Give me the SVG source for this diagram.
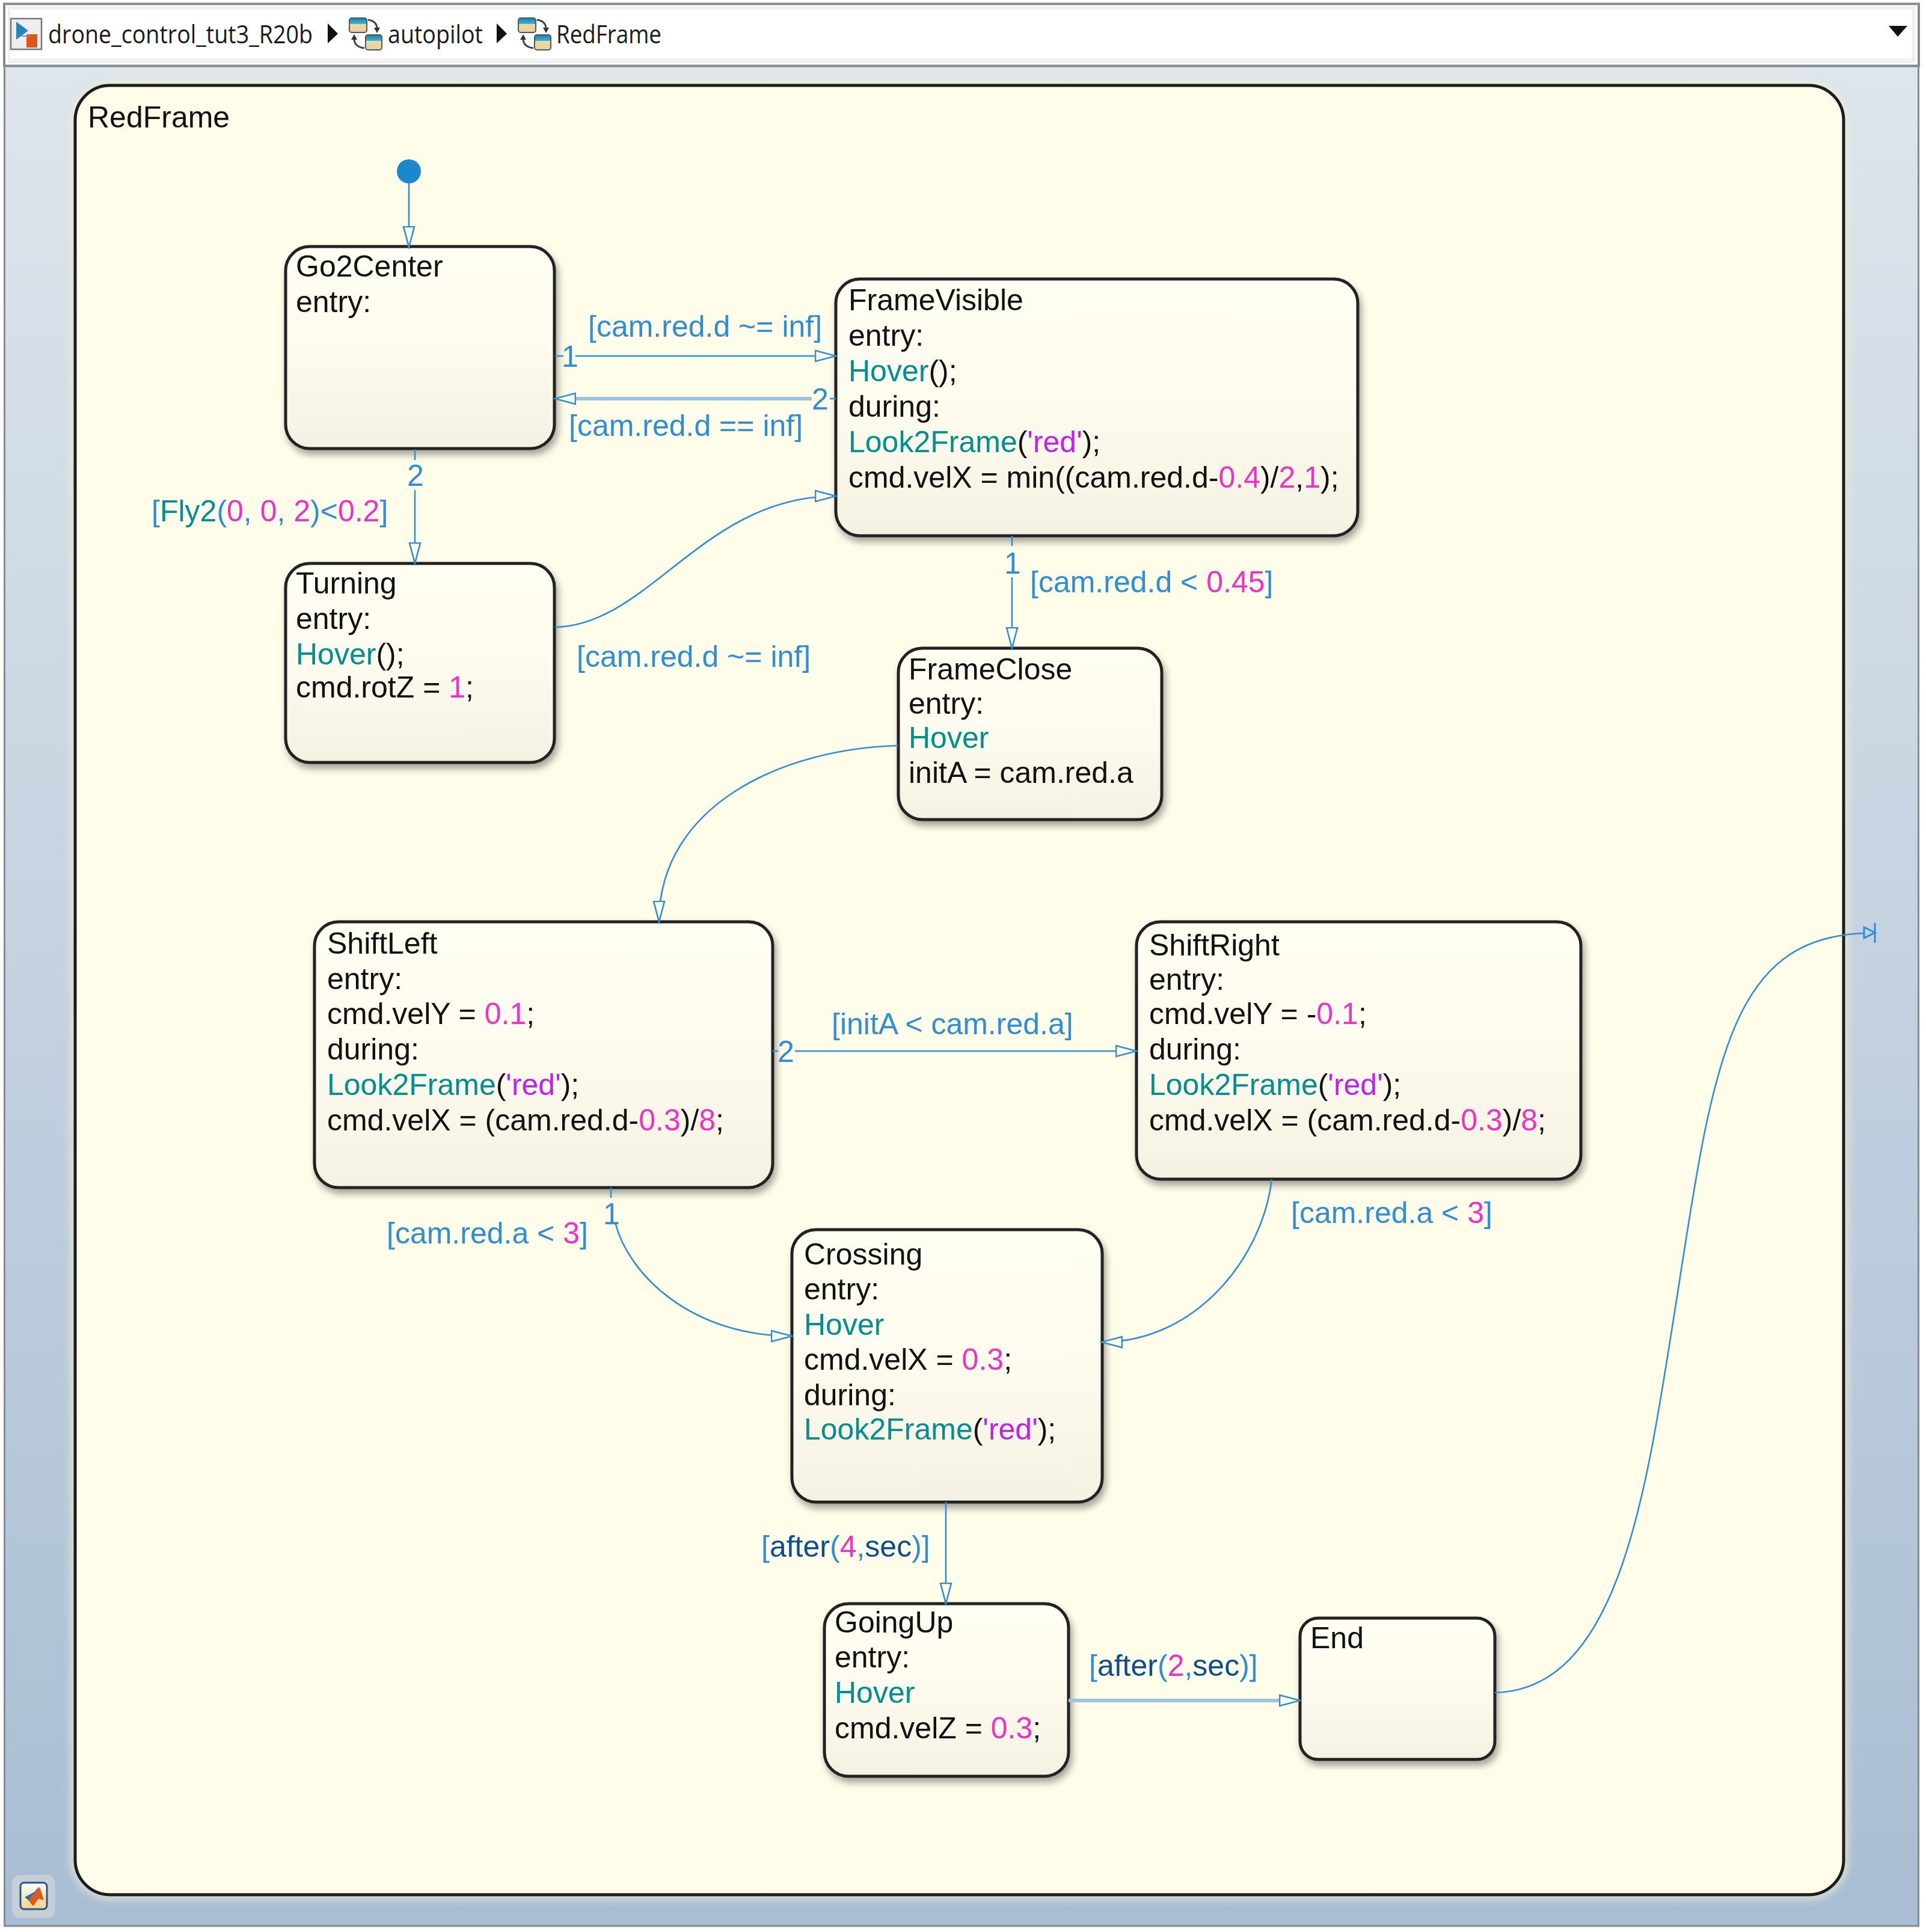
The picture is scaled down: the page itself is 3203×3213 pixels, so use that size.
<svg xmlns="http://www.w3.org/2000/svg" width="3203" height="3213" viewBox="0 0 3203 3213">
<style>
text{font-family:"Liberation Sans",Arial,sans-serif;font-size:50px;fill:#111}
.tb{font-family:"Open Sans","Liberation Sans",sans-serif;font-size:42px;fill:#1a1a1a}
.st{fill:url(#nodeGrad);stroke:#222;stroke-width:5;filter:url(#shadow)}
.t{fill:none;stroke:#2f8fd2;stroke-width:2.6}
.p{fill:none;stroke:#9cc4e0;stroke-width:6}
.arr{marker-end:url(#head)}
.l,.l text{fill:#2f8fd2}
.n{fill:#f030c4}
.f{fill:#009090}
.s{fill:#c020f0}
.k{fill:#0b4f8f}
</style>
<defs>
<linearGradient id="bg" x1="0" y1="0" x2="0" y2="1"><stop offset="0" stop-color="#dee5eb"/><stop offset="1" stop-color="#a8bdd3"/></linearGradient>
<linearGradient id="nodeGrad" x1="0" y1="0" x2="0" y2="1"><stop offset="0" stop-color="#fffef3"/><stop offset="0.5" stop-color="#fdfbee"/><stop offset="1" stop-color="#f5f1e2"/></linearGradient>
<linearGradient id="ico" x1="0" y1="0" x2="0" y2="1"><stop offset="0" stop-color="#fff"/><stop offset="1" stop-color="#f9cf86"/></linearGradient>
<linearGradient id="mini" x1="0" y1="0" x2="0" y2="1"><stop offset="0" stop-color="#1b7fb0"/><stop offset="0.4" stop-color="#36b6d8"/><stop offset="0.41" stop-color="#f0d9a8"/><stop offset="1" stop-color="#e6cf9f"/></linearGradient>
<filter id="shadow" x="-5%" y="-5%" width="112%" height="112%"><feDropShadow dx="4" dy="8" stdDeviation="6" flood-color="#000" flood-opacity="0.35"/></filter>
<filter id="halo" x="-3%" y="-3%" width="106%" height="106%"><feGaussianBlur stdDeviation="7"/></filter>
<marker id="head" markerUnits="userSpaceOnUse" markerWidth="38" markerHeight="24" refX="35" refY="11" orient="auto"><path d="M1 2L35 11L1 20Z" fill="#fffcea" stroke="#2f8fd2" stroke-width="2.6"/></marker>
<g id="miniIcon"><rect x="0" y="0" width="29" height="24" rx="4" fill="url(#mini)" stroke="#555" stroke-width="2"/><rect x="27" y="28" width="27" height="25" rx="4" fill="url(#mini)" stroke="#555" stroke-width="2"/><path d="M31 3Q46 5 46 18M25 50Q8 48 8 34" fill="none" stroke="#444" stroke-width="3"/><path d="M41 16L51 16L46 25ZM3 36L13 36L8 27Z" fill="#333"/></g>
</defs>

<rect width="3203" height="3213" fill="#fff"/>
<rect x="7.500" y="110" width="3183" height="3093" fill="url(#bg)" stroke="#848b95" stroke-width="3"/>
<g id="toolbar">
<rect x="7" y="6.500" width="3184" height="103" fill="#fff" stroke="#848b95" stroke-width="4"/>
<rect x="13" y="11" width="3172" height="94" fill="#f0f0f0"/>
<rect x="17" y="16" width="3163" height="81" fill="#fff"/>
<rect x="18" y="31" width="51" height="51" fill="#eee" stroke="#777" stroke-width="2.500"/>
<path d="M27 36L27 66L47 51Z" fill="#1f86c4"/>
<rect x="44" y="57" width="18" height="22" fill="#e2541a"/>
<path d="M36 60L50 60" stroke="#888" stroke-width="2"/>
<text class="tb" x="80" y="72" textLength="440" lengthAdjust="spacingAndGlyphs">drone_control_tut3_R20b</text>
<path d="M545 39L562 56L545 72Z" fill="#111"/>
<use href="#miniIcon" x="581" y="30"/>
<text class="tb" x="645" y="72" textLength="158" lengthAdjust="spacingAndGlyphs">autopilot</text>
<path d="M826 39L843 56L826 72Z" fill="#111"/>
<use href="#miniIcon" x="862" y="30"/>
<text class="tb" x="925" y="72" textLength="175" lengthAdjust="spacingAndGlyphs">RedFrame</text>
<path d="M3141 43L3172 43L3156 61Z" fill="#111"/>
</g>

<g id="matlab-badge">
<rect x="20" y="3118" width="72" height="72" rx="14" fill="#c6ced6"/>
<rect x="34" y="3131" width="44" height="44" rx="6" fill="url(#ico)" stroke="#1f5b8c" stroke-width="3"/>
<path d="M41 3155L58 3146L64 3137L54 3166Z" fill="#1278b8"/>
<path d="M47 3160L60 3145L66 3138L73 3160L64 3158L55 3170Z" fill="#e2571b"/>
</g>

<g id="RedFrame">
<rect x="125" y="142" width="2941" height="3009" rx="58" fill="none" stroke="#f0ecd4" stroke-width="16" opacity="0.7" filter="url(#halo)"/>
<rect x="125" y="142" width="2941" height="3009" rx="58" fill="#fffcea" stroke="#1c1c1c" stroke-width="5"/>
<text x="146" y="212">RedFrame</text>
</g>

<g id="Go2Center">
<rect class="st" x="475" y="410" width="447" height="336" rx="40"/>
<text x="492" y="460">Go2Center</text>
<text x="492" y="519">entry:</text>
</g>
<g id="FrameVisible">
<rect class="st" x="1390" y="464" width="868" height="427" rx="40"/>
<text x="1411" y="516">FrameVisible</text>
<text x="1411" y="575">entry:</text>
<text x="1411" y="634"><tspan class="f">Hover</tspan>();</text>
<text x="1411" y="693">during:</text>
<text x="1411" y="752"><tspan class="f">Look2Frame</tspan>(<tspan class="s">'red'</tspan>);</text>
<text x="1411" y="811">cmd.velX = min((cam.red.d-<tspan class="n">0.4</tspan>)/<tspan class="n">2</tspan>,<tspan class="n">1</tspan>);</text>
</g>
<g id="Turning">
<rect class="st" x="475" y="937" width="447" height="331" rx="40"/>
<text x="492" y="987">Turning</text>
<text x="492" y="1046">entry:</text>
<text x="492" y="1105"><tspan class="f">Hover</tspan>();</text>
<text x="492" y="1160">cmd.rotZ = <tspan class="n">1</tspan>;</text>
</g>
<g id="FrameClose">
<rect class="st" x="1494" y="1078" width="438" height="285" rx="40"/>
<text x="1511" y="1130">FrameClose</text>
<text x="1511" y="1187">entry:</text>
<text x="1511" y="1244" class="f">Hover</text>
<text x="1511" y="1302">initA = cam.red.a</text>
</g>
<g id="ShiftLeft">
<rect class="st" x="523" y="1533" width="762" height="442" rx="40"/>
<text x="544" y="1586">ShiftLeft</text>
<text x="544" y="1645">entry:</text>
<text x="544" y="1703">cmd.velY = <tspan class="n">0.1</tspan>;</text>
<text x="544" y="1762">during:</text>
<text x="544" y="1821"><tspan class="f">Look2Frame</tspan>(<tspan class="s">'red'</tspan>);</text>
<text x="544" y="1880">cmd.velX = (cam.red.d-<tspan class="n">0.3</tspan>)/<tspan class="n">8</tspan>;</text>
</g>
<g id="ShiftRight">
<rect class="st" x="1890" y="1533" width="739" height="428" rx="40"/>
<text x="1911" y="1589">ShiftRight</text>
<text x="1911" y="1646">entry:</text>
<text x="1911" y="1703">cmd.velY = -<tspan class="n">0.1</tspan>;</text>
<text x="1911" y="1762">during:</text>
<text x="1911" y="1821"><tspan class="f">Look2Frame</tspan>(<tspan class="s">'red'</tspan>);</text>
<text x="1911" y="1880">cmd.velX = (cam.red.d-<tspan class="n">0.3</tspan>)/<tspan class="n">8</tspan>;</text>
</g>
<g id="Crossing">
<rect class="st" x="1317" y="2045" width="516" height="453" rx="40"/>
<text x="1337" y="2103">Crossing</text>
<text x="1337" y="2161">entry:</text>
<text x="1337" y="2220" class="f">Hover</text>
<text x="1337" y="2278">cmd.velX = <tspan class="n">0.3</tspan>;</text>
<text x="1337" y="2337">during:</text>
<text x="1337" y="2394"><tspan class="f">Look2Frame</tspan>(<tspan class="s">'red'</tspan>);</text>
</g>
<g id="GoingUp">
<rect class="st" x="1371" y="2667" width="406" height="287" rx="40"/>
<text x="1388" y="2715">GoingUp</text>
<text x="1388" y="2773">entry:</text>
<text x="1388" y="2832" class="f">Hover</text>
<text x="1388" y="2891">cmd.velZ = <tspan class="n">0.3</tspan>;</text>
</g>
<g id="End">
<rect class="st" x="2162" y="2691" width="324" height="235" rx="30"/>
<text x="2179" y="2741">End</text>
</g>

<g id="connectors">
<circle cx="680" cy="285" r="20" fill="#1b87cc"/>
<path class="t arr" d="M680 305L680 411"/>
<path class="t" d="M923 592L937 592"/>
<path class="t arr" d="M957 592L1390 592"/>
<path class="t" d="M1380 663L1390 663"/>
<path class="p" d="M1350 663L950 663"/>
<path class="arr" d="M960 663L923 663" fill="none"/>
<path class="t" d="M690 747L690 765"/>
<path class="t arr" d="M690 815L690 937"/>
<path class="t arr" d="M923 1043C1080 1040 1170 825 1390 825"/>
<path class="t" d="M1683 891L1683 908"/>
<path class="t arr" d="M1683 960L1683 1078"/>
<path class="t arr" d="M1494 1240C1300 1245 1096 1340 1096 1533"/>
<path class="t" d="M1285 1748L1294 1748"/>
<path class="t arr" d="M1322 1748L1890 1748"/>
<path class="t" d="M1016 1975L1016 1992"/>
<path class="t arr" d="M1023 2033C1045 2120 1150 2222 1317 2222"/>
<path class="t arr" d="M2115 1961C2100 2090 1990 2232 1832 2232"/>
<path class="t arr" d="M1573 2498L1573 2667"/>
<path class="p" d="M1777 2828L2130 2828"/>
<path class="arr" d="M2125 2828L2162 2828" fill="none"/>
<path class="t" d="M2486 2815C2700 2810 2740 2460 2790 2150C2850 1760 2880 1560 3100 1552"/>
<path d="M3100 1542L3118 1551L3100 1560Z" fill="none" stroke="#2f8fd2" stroke-width="3"/>
<path d="M3118 1535L3118 1568" stroke="#2f8fd2" stroke-width="3"/>
<g class="l">
<text x="978" y="560">[cam.red.d ~= inf]</text>
<text x="946" y="725">[cam.red.d == inf]</text>
<text x="252" y="867">[<tspan class="f">Fly2</tspan>(<tspan class="n">0</tspan>, <tspan class="n">0</tspan>, <tspan class="n">2</tspan>)&lt;<tspan class="n">0.2</tspan>]</text>
<text x="959" y="1109">[cam.red.d ~= inf]</text>
<text x="1713" y="985">[cam.red.d &lt; <tspan class="n">0.45</tspan>]</text>
<text x="1383" y="1720">[initA &lt; cam.red.a]</text>
<text x="643" y="2068">[cam.red.a &lt; <tspan class="n">3</tspan>]</text>
<text x="2147" y="2034">[cam.red.a &lt; <tspan class="n">3</tspan>]</text>
<text x="1266" y="2589">[<tspan class="k">after</tspan>(<tspan class="n">4</tspan>,<tspan class="k">sec</tspan>)]</text>
<text x="1811" y="2787">[<tspan class="k">after</tspan>(<tspan class="n">2</tspan>,<tspan class="k">sec</tspan>)]</text>
<text x="934" y="610">1</text>
<text x="1350" y="681">2</text>
<text x="677" y="808">2</text>
<text x="1670" y="954">1</text>
<text x="1293" y="1766">2</text>
<text x="1003" y="2036">1</text>
</g>
</g>
</svg>
